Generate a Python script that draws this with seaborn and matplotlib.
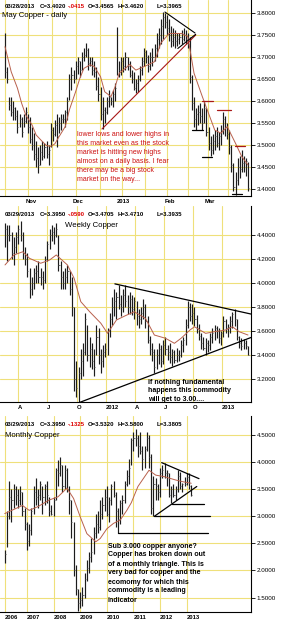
import matplotlib
matplotlib.use("Agg")
import matplotlib.pyplot as plt
import seaborn as sns
import numpy as np

# ---------------- May copper, daily (mid Oct 2012 - 28 Mar 2013)
daily_high = [3.754, 3.677, 3.609, 3.609, 3.600, 3.587, 3.579, 3.570, 3.564, 3.570,
              3.587, 3.570, 3.564, 3.540, 3.527, 3.510, 3.496, 3.500, 3.510, 3.505,
              3.510, 3.500, 3.550, 3.540, 3.557, 3.570, 3.564, 3.570, 3.570, 3.580,
              3.610, 3.662, 3.677, 3.670, 3.690, 3.700, 3.690, 3.710, 3.720, 3.731,
              3.720, 3.700, 3.700, 3.690, 3.677, 3.654, 3.632, 3.609, 3.587, 3.609,
              3.625, 3.610, 3.625, 3.640, 3.768, 3.690, 3.700, 3.700, 3.710, 3.700,
              3.690, 3.670, 3.665, 3.650, 3.660, 3.680, 3.700, 3.720, 3.715, 3.705,
              3.710, 3.720, 3.730, 3.755, 3.765, 3.785, 3.802, 3.800, 3.795, 3.785,
              3.770, 3.765, 3.760, 3.755, 3.755, 3.760, 3.765, 3.760, 3.755, 3.745,
              3.660, 3.610, 3.585, 3.590, 3.595, 3.585, 3.600, 3.585, 3.540, 3.520,
              3.525, 3.535, 3.540, 3.530, 3.545, 3.575, 3.565, 3.550, 3.535, 3.500,
              3.460, 3.440, 3.470, 3.475, 3.490, 3.475, 3.470, 3.462]
daily_low = [3.652, 3.640, 3.579, 3.565, 3.557, 3.557, 3.527, 3.540, 3.518, 3.540,
             3.550, 3.527, 3.505, 3.490, 3.466, 3.450, 3.438, 3.455, 3.466, 3.470,
             3.470, 3.455, 3.496, 3.510, 3.520, 3.496, 3.527, 3.534, 3.550, 3.540,
             3.557, 3.602, 3.625, 3.640, 3.650, 3.662, 3.654, 3.670, 3.690, 3.700,
             3.670, 3.680, 3.660, 3.654, 3.625, 3.600, 3.557, 3.536, 3.550, 3.570,
             3.587, 3.590, 3.587, 3.600, 3.660, 3.655, 3.660, 3.665, 3.670, 3.670,
             3.655, 3.640, 3.625, 3.618, 3.620, 3.645, 3.660, 3.680, 3.685, 3.665,
             3.670, 3.680, 3.690, 3.700, 3.720, 3.730, 3.740, 3.765, 3.750, 3.735,
             3.722, 3.725, 3.720, 3.725, 3.730, 3.730, 3.735, 3.730, 3.720, 3.640,
             3.580, 3.541, 3.535, 3.545, 3.550, 3.535, 3.550, 3.520, 3.490, 3.475,
             3.480, 3.490, 3.495, 3.490, 3.500, 3.525, 3.520, 3.515, 3.480, 3.440,
             3.395, 3.387, 3.410, 3.425, 3.440, 3.440, 3.430, 3.3965]
daily_close = [3.665, 3.650, 3.590, 3.575, 3.585, 3.565, 3.540, 3.560, 3.530, 3.555,
               3.575, 3.540, 3.515, 3.500, 3.480, 3.470, 3.455, 3.485, 3.475, 3.495,
               3.480, 3.490, 3.535, 3.525, 3.545, 3.520, 3.550, 3.560, 3.560, 3.575,
               3.600, 3.650, 3.660, 3.650, 3.680, 3.690, 3.670, 3.700, 3.705, 3.715,
               3.685, 3.690, 3.670, 3.665, 3.635, 3.615, 3.570, 3.580, 3.575, 3.600,
               3.610, 3.600, 3.615, 3.630, 3.700, 3.670, 3.690, 3.680, 3.700, 3.680,
               3.660, 3.650, 3.630, 3.640, 3.650, 3.670, 3.690, 3.710, 3.700, 3.680,
               3.700, 3.700, 3.720, 3.740, 3.750, 3.770, 3.790, 3.780, 3.765, 3.750,
               3.735, 3.745, 3.735, 3.740, 3.745, 3.740, 3.750, 3.740, 3.730, 3.655,
               3.595, 3.560, 3.570, 3.575, 3.565, 3.550, 3.585, 3.530, 3.505, 3.490,
               3.510, 3.520, 3.505, 3.520, 3.535, 3.560, 3.540, 3.525, 3.495, 3.455,
               3.405, 3.420, 3.450, 3.445, 3.460, 3.460, 3.465, 3.402]
daily_ma_x = [0, 3, 6, 8, 10, 13, 15, 18, 20, 22, 24, 26, 29, 31, 34, 36, 38, 41, 43, 46,
              48, 51, 53, 55, 58, 60, 63, 67, 72, 75, 79, 85, 88, 91, 95, 98, 101, 104,
              107, 111, 114, 117]
daily_ma = [3.723, 3.666, 3.629, 3.595, 3.568, 3.546, 3.523, 3.508, 3.499, 3.497,
            3.503, 3.519, 3.542, 3.580, 3.621, 3.651, 3.674, 3.682, 3.678, 3.655,
            3.621, 3.610, 3.632, 3.663, 3.674, 3.683, 3.670, 3.678, 3.689, 3.731,
            3.753, 3.753, 3.746, 3.663, 3.610, 3.572, 3.534, 3.527, 3.542, 3.504,
            3.474, 3.455]
daily_ticks = [12.5, 35, 57, 79.5, 98.5]
daily_ticklabels = ["Nov", "Dec", "2013", "Feb", "Mar"]
daily_grid = [0, 11, 22.5, 34, 45.5, 56.5, 67.5, 78, 88, 97.5, 107.5]
daily_levels = [3.40, 3.45, 3.50, 3.55, 3.60, 3.65, 3.70, 3.75, 3.80]

# ---------------- Copper, weekly (Feb 2011 - Mar 2013)
weekly_high = [4.50, 4.48, 4.48, 4.42, 4.38, 4.42, 4.48, 4.51, 4.42, 4.30,
               4.25, 4.12, 4.05, 4.12, 4.15, 4.18, 4.12, 4.10, 4.22, 4.35,
               4.45, 4.48, 4.46, 4.50, 4.40, 4.18, 4.10, 4.12, 4.15, 4.10,
               4.05, 3.80, 3.35, 3.30, 3.45, 3.50, 3.75, 3.65, 3.55, 3.50,
               3.45, 3.65, 3.62, 3.45, 3.48, 3.50, 3.62, 3.75, 3.88, 3.95,
               3.92, 3.98, 3.90, 3.95, 3.98, 3.90, 3.92, 3.90, 3.88, 3.85,
               3.78, 3.80, 3.86, 3.82, 3.72, 3.56, 3.50, 3.45, 3.45, 3.50,
               3.48, 3.52, 3.55, 3.48, 3.50, 3.45, 3.44, 3.46, 3.44, 3.52,
               3.55, 3.70, 3.85, 3.83, 3.82, 3.80, 3.73, 3.66, 3.58, 3.55,
               3.54, 3.52, 3.58, 3.62, 3.65, 3.64, 3.62, 3.60, 3.72, 3.70,
               3.66, 3.72, 3.76, 3.78, 3.70, 3.56, 3.54, 3.53, 3.52, 3.471]
weekly_low = [4.30, 4.18, 4.35, 4.20, 4.15, 4.25, 4.32, 4.35, 4.20, 4.15,
              4.05, 3.87, 3.90, 3.95, 4.00, 4.00, 3.98, 3.95, 4.00, 4.18,
              4.28, 4.35, 4.32, 4.38, 4.10, 3.95, 3.95, 3.95, 4.00, 3.90,
              3.72, 3.10, 3.05, 3.00, 3.20, 3.22, 3.40, 3.35, 3.30, 3.28,
              3.22, 3.40, 3.32, 3.25, 3.30, 3.38, 3.40, 3.55, 3.65, 3.72,
              3.70, 3.78, 3.72, 3.76, 3.80, 3.74, 3.74, 3.73, 3.70, 3.65,
              3.62, 3.66, 3.70, 3.62, 3.50, 3.40, 3.35, 3.25, 3.28, 3.32,
              3.30, 3.32, 3.40, 3.36, 3.33, 3.31, 3.33, 3.34, 3.35, 3.38,
              3.42, 3.48, 3.62, 3.68, 3.66, 3.64, 3.58, 3.52, 3.45, 3.44,
              3.40, 3.42, 3.44, 3.50, 3.52, 3.54, 3.50, 3.48, 3.55, 3.58,
              3.55, 3.58, 3.62, 3.64, 3.52, 3.46, 3.44, 3.45, 3.45, 3.3935]
weekly_close = [4.45, 4.40, 4.40, 4.25, 4.30, 4.38, 4.45, 4.40, 4.25, 4.20,
                4.10, 3.95, 4.00, 4.08, 4.10, 4.05, 4.05, 4.02, 4.20, 4.32,
                4.40, 4.42, 4.40, 4.45, 4.15, 4.05, 4.00, 4.05, 4.10, 3.95,
                3.80, 3.20, 3.12, 3.25, 3.35, 3.42, 3.70, 3.40, 3.45, 3.35,
                3.30, 3.55, 3.40, 3.35, 3.42, 3.45, 3.60, 3.70, 3.80, 3.85,
                3.88, 3.82, 3.80, 3.90, 3.85, 3.80, 3.86, 3.78, 3.85, 3.72,
                3.70, 3.75, 3.80, 3.68, 3.52, 3.45, 3.42, 3.30, 3.40, 3.45,
                3.35, 3.48, 3.45, 3.42, 3.38, 3.42, 3.36, 3.40, 3.40, 3.48,
                3.52, 3.65, 3.80, 3.72, 3.75, 3.70, 3.62, 3.56, 3.50, 3.46,
                3.50, 3.48, 3.55, 3.58, 3.62, 3.60, 3.54, 3.58, 3.68, 3.62,
                3.63, 3.68, 3.74, 3.70, 3.55, 3.50, 3.47, 3.50, 3.47, 3.395]
weekly_ma_x = [0, 4, 8, 11, 16, 20, 23, 28, 31, 34, 38, 43, 46, 50, 54, 58, 63, 67, 72,
               76, 79, 83, 85, 90, 94, 99, 102, 105, 109]
weekly_ma = [4.148, 4.231, 4.258, 4.203, 4.162, 4.189, 4.231, 4.148, 4.037, 3.842,
             3.758, 3.662, 3.578, 3.689, 3.725, 3.758, 3.703, 3.564, 3.537, 3.495,
             3.537, 3.606, 3.633, 3.578, 3.592, 3.606, 3.633, 3.592, 3.564]
weekly_ticks = [5.8, 18.8, 32.3, 45.3, 58.3, 71.3, 84.3, 97.3]
weekly_ticklabels = ["A", "J", "O", "2012", "A", "J", "O", "2013"]
weekly_levels = [3.2, 3.4, 3.6, 3.8, 4.0, 4.2, 4.4]

# ---------------- Copper, monthly (Mar 2006 - Mar 2013), month 0 = Jan 2006
monthly_first = 2
monthly_high = [2.37, 3.10, 3.65, 3.50, 3.60, 3.55, 3.50, 3.55, 3.45, 3.15,
                2.90, 2.85, 3.15, 3.55, 3.70, 3.50, 3.65, 3.55, 3.60, 3.65,
                3.35, 3.20, 3.35, 3.90, 4.03, 4.10, 3.95, 3.95, 3.90, 3.55,
                3.30, 2.90, 2.10, 1.65, 1.60, 1.70, 1.95, 2.20, 2.35, 2.60,
                2.80, 3.05, 3.10, 3.30, 3.35, 3.50, 3.55, 3.35, 3.60, 3.65,
                3.45, 3.15, 3.30, 3.40, 3.65, 3.85, 4.05, 4.45, 4.55, 4.62,
                4.50, 4.55, 4.30, 4.30, 4.55, 4.50, 4.15, 3.75, 3.70, 3.60,
                3.90, 3.95, 3.98, 3.85, 3.80, 3.55, 3.60, 3.55, 3.85, 3.82,
                3.62, 3.73, 3.80, 3.80, 3.58]
monthly_low = [2.13, 2.43, 2.95, 2.90, 3.15, 3.20, 3.15, 3.20, 3.00, 2.75,
               2.38, 2.45, 2.65, 3.05, 3.20, 3.15, 3.30, 3.05, 3.20, 3.25,
               3.00, 3.02, 3.00, 3.30, 3.55, 3.75, 3.45, 3.50, 3.45, 3.05,
               2.60, 1.90, 1.55, 1.25, 1.30, 1.35, 1.50, 1.80, 1.95, 2.15,
               2.30, 2.60, 2.70, 2.75, 2.95, 3.10, 3.00, 2.90, 3.20, 3.35,
               2.80, 2.70, 2.85, 3.05, 3.25, 3.55, 3.60, 3.95, 4.20, 4.30,
               4.10, 4.15, 3.85, 3.90, 4.20, 3.90, 3.05, 3.00, 3.30, 3.30,
               3.35, 3.70, 3.70, 3.55, 3.35, 3.25, 3.35, 3.30, 3.45, 3.50,
               3.45, 3.55, 3.57, 3.50, 3.3805]
monthly_close = [2.30, 3.00, 3.35, 3.30, 3.50, 3.40, 3.30, 3.45, 3.10, 2.85,
                 2.55, 2.75, 3.10, 3.45, 3.35, 3.40, 3.60, 3.35, 3.55, 3.40,
                 3.10, 3.05, 3.30, 3.85, 3.80, 3.95, 3.55, 3.85, 3.50, 3.30,
                 2.90, 2.00, 1.65, 1.40, 1.45, 1.55, 1.85, 2.05, 2.25, 2.35,
                 2.70, 2.85, 2.80, 3.05, 3.20, 3.35, 3.05, 3.30, 3.55, 3.40,
                 3.10, 2.95, 3.25, 3.30, 3.60, 3.75, 3.90, 4.40, 4.45, 4.45,
                 4.30, 4.20, 4.05, 4.25, 4.45, 4.10, 3.15, 3.60, 3.55, 3.45,
                 3.80, 3.85, 3.80, 3.80, 3.40, 3.50, 3.40, 3.50, 3.75, 3.55,
                 3.60, 3.60, 3.72, 3.55, 3.395]
monthly_ma_x = [2, 10, 13, 17, 22, 26, 30, 33, 36, 39, 43, 45, 48, 51, 54, 57, 59, 62,
                67, 70, 74, 79, 82, 86]
monthly_ma = [3.05, 3.20, 3.11, 3.18, 3.30, 3.36, 3.52, 3.33, 2.99, 2.68, 2.53, 2.59,
              2.77, 2.87, 2.93, 3.11, 3.25, 3.55, 3.85, 3.76, 3.73, 3.67, 3.64, 3.61]
monthly_ticks = [2, 12, 24, 36, 48, 60, 72, 84]
monthly_ticklabels = ["2006", "2007", "2008", "2009", "2010", "2011", "2012", "2013"]
monthly_levels = [1.5, 2.0, 2.5, 3.0, 3.5, 4.0, 4.5]

sns.set_theme(style="white")
plt.rcParams["font.family"] = ["Liberation Sans", "DejaVu Sans"]

W, H = 284, 625
fig = plt.figure(figsize=(W / 100, H / 100), dpi=100)
fig.patch.set_facecolor("white")

GRID = "#efe07a"
BAR = "#1c1c1c"
MA = "#b8604c"
DRED = "#a81818"


def ptext(px, py, s, size, color="black", weight="normal", ha="left"):
    fig.text(px / W, 1 - py / H, s, fontsize=size, color=color,
             fontweight=weight, ha=ha, va="center")


def make_axes(top, bottom):
    ax = fig.add_axes([0, 1 - bottom / H, 251 / W, (bottom - top) / H])
    ax.set_facecolor("white")
    for s in ["left", "top"]:
        ax.spines[s].set_visible(False)
    for s in ["right", "bottom"]:
        ax.spines[s].set_color("black")
        ax.spines[s].set_linewidth(0.8)
    ax.yaxis.tick_right()
    return ax


def draw_panel(ax, x, high, low, close, ma_x, ma, levels, fmt, grid_x,
               ticks, ticklabels, tick_ha):
    for v in levels:
        ax.axhline(v, color=GRID, lw=0.8, zorder=0)
    for g in grid_x:
        ax.axvline(g, color=GRID, lw=0.8, zorder=0)
    ax.vlines(x, low, high, color=BAR, lw=0.85, zorder=2)
    ax.hlines(close, x, np.asarray(x) + 0.5, color="#555555", lw=0.6, zorder=2)
    sns.lineplot(x=ma_x, y=ma, ax=ax, color=MA, lw=0.7, zorder=3)
    ax.set_xlabel("")
    ax.set_ylabel("")
    ax.set_yticks(levels)
    ax.set_yticklabels([fmt.format(v) for v in levels])
    ax.tick_params(axis="y", right=True, length=3, width=0.6, pad=1,
                   labelsize=4.5, colors="black")
    ax.set_xticks(ticks)
    ax.set_xticklabels(ticklabels, fontweight="bold")
    ax.tick_params(axis="x", length=0, pad=2, labelsize=4.2, colors="black")
    for lab in ax.get_xticklabels():
        lab.set_ha(tick_ha)


# ---------------- panel 1: daily
ax1 = make_axes(0, 196)
xd = np.arange(len(daily_high))
draw_panel(ax1, xd, daily_high, daily_low, daily_close, daily_ma_x, daily_ma,
           daily_levels, "{:.4f}", daily_grid, daily_ticks, daily_ticklabels, "center")
ax1.set_xlim(-2.407, 118.44)
ax1.set_ylim(3.3848, 3.8288)
ax1.plot([46.7, 91.8], [3.5366, 3.7495], color=DRED, lw=0.8, zorder=4)
ax1.plot([77.0, 91.5], [3.8016, 3.754], color="black", lw=0.8, zorder=4)
ax1.plot([83.2, 91.8], [3.719, 3.751], color="black", lw=0.8, zorder=4)
for x0, x1, y in [(94.8, 100.1, 3.60), (102, 108.8, 3.58), (110.7, 115.5, 3.498)]:
    ax1.plot([x0, x1], [y, y], color=DRED, lw=0.9, zorder=4)
for x0, x1, y in [(90, 95.3, 3.534), (94.8, 99.7, 3.474), (109.3, 114.1, 3.389)]:
    ax1.plot([x0, x1], [y, y], color="black", lw=0.9, zorder=4)

# ---------------- panel 2: weekly
ax2 = make_axes(206, 402)
xw = np.arange(len(weekly_high))
draw_panel(ax2, xw, weekly_high, weekly_low, weekly_close, weekly_ma_x, weekly_ma,
           weekly_levels, "{:.4f}", weekly_ticks, weekly_ticks, weekly_ticklabels, "left")
ax2.set_xlim(-2.243, 110.36)
ax2.set_ylim(3.006, 4.639)
ax2.plot([49.3, 111.3], [3.99, 3.735], color="black", lw=0.9, zorder=4)
ax2.plot([32.4, 111.3], [2.995, 3.55], color="black", lw=0.9, zorder=4)

# ---------------- panel 3: monthly
ax3 = make_axes(416, 612)
xm = np.arange(len(monthly_high)) + monthly_first
draw_panel(ax3, xm, monthly_high, monthly_low, monthly_close, monthly_ma_x, monthly_ma,
           monthly_levels, "{:.4f}", monthly_ticks, monthly_ticks, monthly_ticklabels, "left")
ax3.set_xlim(-0.135, 112.93)
ax3.set_ylim(1.234, 4.851)
ax3.plot([72.7, 89.5], [3.99, 3.695], color="black", lw=0.9, zorder=4)
ax3.plot([69.4, 88.5], [3.00, 3.55], color="black", lw=0.9, zorder=4)
for x0, x1, y in [(77.2, 91.6, 3.234), (69.4, 94.5, 3.00), (53.2, 93.7, 2.70)]:
    ax3.plot([x0, x1], [y, y], color="black", lw=0.9, zorder=4)

# ---------------- header lines
headers = [
    (7, ["03/28/2013", "C=3.4020", "-.0415", "O=3.4565", "H=3.4620", "L=3.3965"]),
    (214.3, ["03/29/2013", "C=3.3950", "-.0590", "O=3.4705", "H=3.4710", "L=3.3935"]),
    (424.3, ["03/29/2013", "C=3.3950", "-.1325", "O=3.5320", "H=3.5800", "L=3.3805"]),
]
header_x = [5, 40, 68, 88, 118, 157]
for py, parts in headers:
    for px, s in zip(header_x, parts):
        ptext(px, py, s, 4.3, color="#dd0000" if s.startswith("-") else "black",
              weight="bold")

ptext(2, 15.7, "May Copper - daily", 5.6)
ptext(65, 225.7, "Weekly Copper", 5.6)
ptext(5, 435.7, "Monthly Copper", 5.6)

note1 = ["lower lows and lower highs in", "this market even as the stock",
         "market is hitting new highs", "almost on a daily basis. I fear",
         "there may be a big stock", "market on the way..."]
for k, s in enumerate(note1):
    ptext(77, 134 + 9.1 * k, s, 5, color="#cc1111")

note2 = ["if nothing fundamental", "happens this commodity", "will get to 3.00...."]
for k, s in enumerate(note2):
    ptext(148, 382 + 8.7 * k, s, 5, weight="bold")

note3 = ["Sub 3.000 copper anyone?", "Copper has broken down out",
         "of a monthly triangle. This is", "very bad for copper and the",
         "ecomomy for which this", "commodity is a leading", "indicator"]
for k, s in enumerate(note3):
    ptext(108, 546 + 9 * k, s, 5, weight="bold")

fig.savefig("out.png", dpi=100)
